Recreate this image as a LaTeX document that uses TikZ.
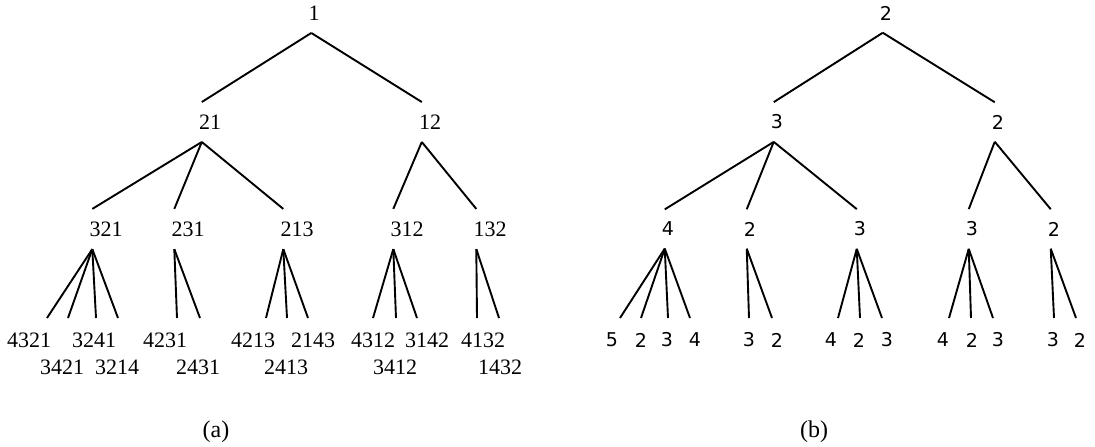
\documentclass[tikz,border=0pt]{standalone}
\usepackage{fontspec}
\setmainfont{Liberation Serif}
\newfontfamily\valfont{DejaVu Sans}
\begin{document}
\begin{tikzpicture}[x=1pt,y=-1pt]
    \tikzstyle{perm} = [inner xsep=0pt, inner ysep=12.5pt, font=\fontsize{22}{26}\selectfont]
    \tikzstyle{val} = [inner xsep=0pt, inner ysep=12.5pt, font=\valfont\fontsize{19}{23}\selectfont]
    \tikzstyle{leafperm} = [inner sep=0pt, font=\fontsize{22}{26}\selectfont]
    \tikzstyle{leafval} = [inner sep=0pt, font=\valfont\fontsize{19}{23}\selectfont]
    \tikzstyle{caption} = [inner sep=0pt, font=\fontsize{24}{28}\selectfont]
    \tikzstyle{branch} = [line width=1.9pt, draw=black]
    \useasboundingbox (0,0) rectangle (1095,447);
    % (a) permutations
    \node[perm] (a1) at (314,13) {1};
    \node[perm] (a21) at (210,122) {21};
    \node[perm] (a12) at (430,122) {12};
    \node[perm] (a321) at (106,229) {321};
    \node[perm] (a231) at (188,229) {231};
    \node[perm] (a213) at (297,229) {213};
    \node[perm] (a312) at (407,229) {312};
    \node[perm] (a132) at (490,229) {132};
    \foreach \p/\c in {a1/a21, a1/a12, a21/a321, a21/a231, a21/a213, a12/a312, a12/a132}
        \draw[branch] ([xshift=3pt]\p.south west) -- ([xshift=3pt]\c.north west);
    \foreach \p/\x in {a321/47, a321/68, a321/96, a321/118, a231/177, a231/200,
                       a213/266, a213/287, a213/308, a312/373, a312/396, a312/417,
                       a132/477, a132/499} {
        \coordinate (\p-\x) at (\x,318);
        \draw[branch] ([xshift=3pt]\p.south west) -- (\p-\x);
    }
    \foreach \t/\x/\y in {4321/29/340, 3421/62/367, 3241/94/340, 3214/117/367,
                          4231/165/340, 2431/198/367, 4213/253/340, 2413/286/367,
                          2143/313/340, 4312/373/340, 3412/395/367, 3142/427/340,
                          4132/483/340, 1432/500/367}
        \node[leafperm] (a\t) at (\x,\y) {\t};
    \node[caption] (capa) at (216,432) {(a)};
    % (b) values
    \node[val] (b1) at (886,13) {2};
    \node[val] (b21) at (777,122) {3};
    \node[val] (b12) at (998,122) {2};
    \node[val] (b321) at (668,229) {4};
    \node[val] (b231) at (750,229) {2};
    \node[val] (b213) at (860,229) {3};
    \node[val] (b312) at (972,229) {3};
    \node[val] (b132) at (1054,229) {2};
    \foreach \p/\c in {b1/b21, b1/b12, b21/b321, b21/b231, b21/b213, b12/b312, b12/b132}
        \draw[branch] ([xshift=3pt]\p.south west) -- ([xshift=3pt]\c.north west);
    \foreach \p/\x in {b321/620, b321/641, b321/668, b321/690, b231/749, b231/772,
                       b213/838, b213/860, b213/882, b312/949, b312/971, b312/993,
                       b132/1054, b132/1076} {
        \coordinate (\p-\x) at (\x,318);
        \draw[branch] ([xshift=3pt]\p.south west) -- (\p-\x);
    }
    \foreach \t/\x [count=\i] in {5/612, 2/641, 3/667, 4/695, 3/749, 2/777, 4/831,
                                  2/859, 3/887, 4/943, 2/972, 3/998, 3/1053, 2/1080}
        \node[leafval] (bleaf\i) at (\x,340) {\t};
    \node[caption] (capb) at (814,432) {(b)};
\end{tikzpicture}
\end{document}
